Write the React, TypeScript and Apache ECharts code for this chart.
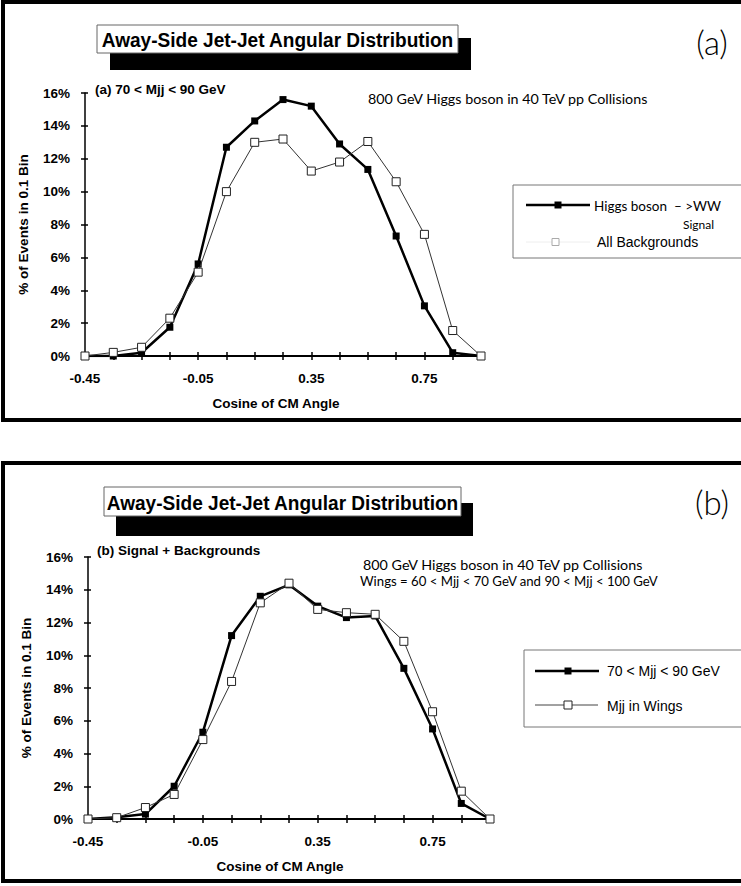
import React, { useEffect, useRef } from "react";
import * as echarts from "echarts";

const categories = ["-0.45", "-0.35", "-0.25", "-0.15", "-0.05", "0.05", "0.15", "0.25", "0.35", "0.45", "0.55", "0.65", "0.75", "0.85", "0.95"];
const yTicks = { min: 0, max: 16, interval: 2 };

// Panel (a): 70 < Mjj < 90 GeV
const higgsSignalA = [0, 0, 0.2, 1.75, 5.6, 12.7, 14.3, 15.6, 15.2, 12.9, 11.35, 7.3, 3.05, 0.2, 0];
const allBackgroundsA = [0, 0.22, 0.53, 2.3, 5.1, 10.0, 13.0, 13.2, 11.25, 11.8, 13.05, 10.6, 7.4, 1.55, 0];

// Panel (b): Signal + Backgrounds
const centralMassB = [0, 0.1, 0.3, 2.0, 5.3, 11.2, 13.6, 14.3, 13.0, 12.3, 12.4, 9.2, 5.5, 0.95, 0];
const wingsMassB = [0, 0.08, 0.7, 1.5, 4.85, 8.4, 13.2, 14.4, 12.8, 12.6, 12.5, 10.85, 6.55, 1.7, 0];

const seriesNames = ["Higgs boson  \u2013 >WW", "All Backgrounds", "70 < Mjj < 90 GeV", "Mjj in Wings"];

const BOLD = "'Liberation Sans', Arial, sans-serif";
const HUM = "Lato, 'Open Sans', sans-serif";

function xAxes(grid: number, nameShift: number) {
  return [
    {
      type: "category",
      gridIndex: grid,
      data: categories,
      boundaryGap: false,
      position: "bottom",
      axisLine: { show: true, onZero: false, lineStyle: { color: "#000", width: 2 } },
      axisTick: { show: true, interval: 0, length: 4, lineStyle: { color: "#000", width: 1.5 } },
      axisLabel: { interval: 3, color: "#000", fontFamily: BOLD, fontWeight: "bold", fontSize: 13.5, margin: 15 },
      name: "Cosine of CM Angle",
      nameLocation: "middle",
      nameGap: 40,
      nameTextStyle: { color: "#000", fontFamily: BOLD, fontWeight: "bold", fontSize: 13.5, padding: [0, nameShift, 0, 0] },
      splitLine: { show: false },
    },
    {
      type: "category",
      gridIndex: grid,
      data: categories,
      boundaryGap: false,
      position: "bottom",
      offset: 0,
      axisLine: { show: false },
      axisTick: { show: true, inside: true, interval: 0, length: 4, lineStyle: { color: "#000", width: 1.5 } },
      axisLabel: { show: false },
      splitLine: { show: false },
    },
  ];
}

function yAxes(grid: number) {
  return [
    {
      type: "value",
      gridIndex: grid,
      ...yTicks,
      position: "left",
      axisLine: { show: true, lineStyle: { color: "#000", width: 1.5 } },
      axisTick: { show: true, length: 4, lineStyle: { color: "#000", width: 1.5 } },
      axisLabel: { formatter: "{value}%", color: "#000", fontFamily: BOLD, fontWeight: "bold", fontSize: 13.5, margin: 15 },
      splitLine: { show: false },
      name: "% of Events in 0.1 Bin",
      nameLocation: "middle",
      nameGap: 55,
      nameTextStyle: { color: "#000", fontFamily: BOLD, fontWeight: "bold", fontSize: 13.5 },
    },
    {
      type: "value",
      gridIndex: grid,
      ...yTicks,
      position: "left",
      offset: 0,
      axisLine: { show: false },
      axisTick: { show: true, inside: true, length: 3, lineStyle: { color: "#000", width: 1.5 } },
      axisLabel: { show: false },
      splitLine: { show: false },
    },
  ];
}

function filledSeries(name: string, data: number[], xi: number, yi: number) {
  return {
    type: "line",
    name,
    data,
    xAxisIndex: xi,
    yAxisIndex: yi,
    symbol: "rect",
    symbolSize: 7,
    showSymbol: true,
    lineStyle: { color: "#000", width: 2.5 },
    itemStyle: { color: "#000" },
    z: 3,
  };
}

function openSeries(name: string, data: number[], xi: number, yi: number) {
  return {
    type: "line",
    name,
    data,
    xAxisIndex: xi,
    yAxisIndex: yi,
    symbol: "rect",
    symbolSize: 8,
    showSymbol: true,
    lineStyle: { color: "#333", width: 1 },
    itemStyle: { color: "#fff", borderColor: "#222", borderWidth: 1 },
    z: 4,
  };
}

function titleBox(x: number, y: number, w: number, h: number, sx: number, sy: number) {
  return [
    { type: "rect", shape: { x: sx, y: sy, width: w, height: h + 4 }, style: { fill: "#000" }, silent: true },
    { type: "rect", shape: { x, y, width: w, height: h }, style: { fill: "#fff", stroke: "#666", lineWidth: 1 }, silent: true },
    {
      type: "text",
      x: x + w / 2,
      y: y + h / 2 + 1,
      scaleX: 0.93,
      style: { text: "Away-Side Jet-Jet Angular Distribution", fill: "#000", font: `bold 20.5px ${BOLD}`, align: "center", verticalAlign: "middle" },
      silent: true,
    },
  ];
}

export default function App() {
  const ref = useRef<HTMLDivElement>(null);
  useEffect(() => {
    if (!ref.current) return;
    const chart = echarts.init(ref.current, undefined, { renderer: "svg" });

    const graphic: any[] = [
      // panel frames
      { type: "rect", shape: { x: 3, y: 2, width: 800, height: 418 }, style: { fill: "none", stroke: "#000", lineWidth: 4 }, silent: true },
      { type: "rect", shape: { x: 3, y: 463, width: 800, height: 418 }, style: { fill: "none", stroke: "#000", lineWidth: 4 }, silent: true },
      ...titleBox(97, 25, 361, 28, 110, 38),
      ...titleBox(104, 487, 357, 29, 116, 503),
      { type: "text", x: 712, y: 42, style: { text: "(a)", fill: "#000", font: `300 33px ${HUM}`, align: "center", verticalAlign: "middle" }, silent: true },
      { type: "text", x: 712, y: 502, style: { text: "(b)", fill: "#000", font: `300 33px ${HUM}`, align: "center", verticalAlign: "middle" }, silent: true },
      { type: "text", x: 95, y: 89, style: { text: "(a) 70 < Mjj < 90 GeV", fill: "#000", font: `bold 13.5px ${BOLD}`, align: "left", verticalAlign: "middle" }, silent: true },
      { type: "text", x: 97, y: 550, style: { text: "(b) Signal + Backgrounds", fill: "#000", font: `bold 13.5px ${BOLD}`, align: "left", verticalAlign: "middle" }, silent: true },
      { type: "text", x: 368, y: 98, style: { text: "800 GeV Higgs boson in 40 TeV pp Collisions", fill: "#000", font: `14.3px ${HUM}`, align: "left", verticalAlign: "middle" }, silent: true },
      { type: "text", x: 363, y: 564, style: { text: "800 GeV Higgs boson in 40 TeV pp Collisions", fill: "#000", font: `14.3px ${HUM}`, align: "left", verticalAlign: "middle" }, silent: true },
      { type: "text", x: 360, y: 581, style: { text: "Wings = 60 < Mjj < 70 GeV and 90 < Mjj < 100 GeV", fill: "#000", font: `13.2px ${HUM}`, align: "left", verticalAlign: "middle" }, silent: true },
      // legend (a)
      { type: "rect", shape: { x: 513, y: 185, width: 300, height: 73 }, style: { fill: "none", stroke: "#777", lineWidth: 1 }, silent: true },
      { type: "line", shape: { x1: 526, y1: 205, x2: 590, y2: 205 }, style: { stroke: "#000", lineWidth: 2.5 }, silent: true },
      { type: "rect", shape: { x: 554.5, y: 201.5, width: 7, height: 7 }, style: { fill: "#000" }, silent: true },
      { type: "text", x: 594, y: 206, style: { text: seriesNames[0], fill: "#000", font: `13.5px ${HUM}`, align: "left", verticalAlign: "middle" }, silent: true },
      { type: "text", x: 683, y: 224, style: { text: "Signal", fill: "#000", font: `12px ${HUM}`, align: "left", verticalAlign: "middle" }, silent: true },
      { type: "line", shape: { x1: 526, y1: 242, x2: 590, y2: 242 }, style: { stroke: "#eee", lineWidth: 1 }, silent: true },
      { type: "rect", shape: { x: 552, y: 238.5, width: 7, height: 7 }, style: { fill: "#fff", stroke: "#aaa", lineWidth: 1 }, silent: true },
      { type: "text", x: 597, y: 242, style: { text: seriesNames[1], fill: "#000", font: `14px ${BOLD}`, align: "left", verticalAlign: "middle" }, silent: true },
      // legend (b)
      { type: "rect", shape: { x: 524, y: 650, width: 300, height: 77 }, style: { fill: "none", stroke: "#777", lineWidth: 1 }, silent: true },
      { type: "line", shape: { x1: 535, y1: 671, x2: 599, y2: 671 }, style: { stroke: "#000", lineWidth: 2.5 }, silent: true },
      { type: "rect", shape: { x: 564.5, y: 667.5, width: 7, height: 7 }, style: { fill: "#000" }, silent: true },
      { type: "text", x: 607, y: 671, style: { text: seriesNames[2], fill: "#000", font: `14px ${BOLD}`, align: "left", verticalAlign: "middle" }, silent: true },
      { type: "line", shape: { x1: 535, y1: 705, x2: 598, y2: 705 }, style: { stroke: "#444", lineWidth: 1 }, silent: true },
      { type: "rect", shape: { x: 564, y: 701, width: 8, height: 8 }, style: { fill: "#fff", stroke: "#222", lineWidth: 1 }, silent: true },
      { type: "text", x: 607, y: 706, style: { text: seriesNames[3], fill: "#000", font: `14px ${BOLD}`, align: "left", verticalAlign: "middle" }, silent: true },
    ];

    chart.setOption({
      animation: false,
      backgroundColor: "#fff",
      grid: [
        { left: 85, right: 741 - 481, top: 93, bottom: 886 - 356 },
        { left: 88, right: 741 - 490, top: 557, bottom: 886 - 819 },
      ],
      xAxis: [...xAxes(0, 14), ...xAxes(1, 18)],
      yAxis: [...yAxes(0), ...yAxes(1)],
      series: [
        filledSeries(seriesNames[0], higgsSignalA, 0, 0),
        openSeries(seriesNames[1], allBackgroundsA, 0, 0),
        filledSeries(seriesNames[2], centralMassB, 2, 2),
        openSeries(seriesNames[3], wingsMassB, 2, 2),
      ],
      graphic,
    });
    return () => chart.dispose();
  }, []);
  return <div ref={ref} style={{ position: "absolute", left: 0, top: 0, width: 741, height: 886 }} />;
}
